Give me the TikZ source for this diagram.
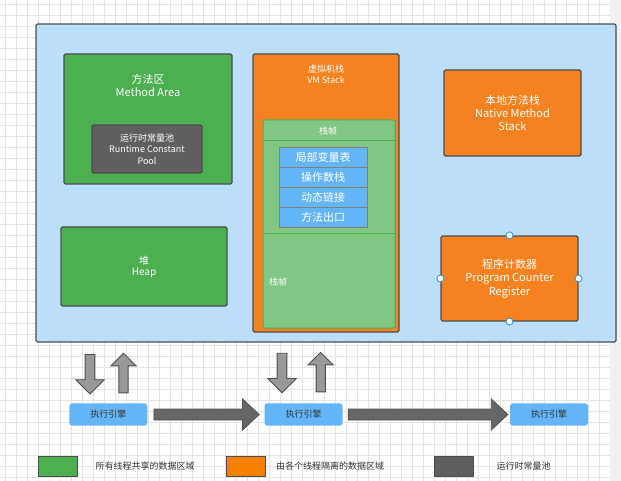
\documentclass[tikz,border=0pt]{standalone}
\usepackage{fontspec}
\setmainfont{Noto Sans CJK SC}
\usetikzlibrary{shapes.arrows}
\definecolor{gridgray}{HTML}{E4E4E4}
\definecolor{stripgray}{HTML}{F0F0F0}
\definecolor{edgegray}{HTML}{4D4D4D}
\definecolor{areablue}{HTML}{BBDEFB}
\definecolor{sharedgreen}{HTML}{4CAF50}
\definecolor{privateorange}{HTML}{F5821E}
\definecolor{legendorange}{HTML}{F88000}
\definecolor{poolgray}{HTML}{5F5F5F}
\definecolor{framegreen}{HTML}{81C784}
\definecolor{cellblue}{HTML}{64B5F6}
\definecolor{handleblue}{HTML}{2A8FF7}
\begin{document}
\begin{tikzpicture}[x=1pt,y=-1pt,
  area/.style={draw=edgegray,line width=1.2pt,rounded corners=1.5pt,inner sep=0pt,text=white,align=center},
  shared/.style={area,fill=sharedgreen},
  private/.style={area,fill=privateorange},
  pool/.style={area,fill=poolgray},
  title/.style={text=white,align=center,inner sep=0pt,font=\fontsize{11}{12.5}\selectfont},
  small/.style={text=white,align=center,inner sep=0pt,font=\fontsize{9}{11.3}\selectfont},
  cell/.style={draw=gray,line width=0.8pt,fill=cellblue,minimum width=88pt,minimum height=20pt,inner sep=0pt,text=white,font=\fontsize{11}{12}\selectfont},
  engine/.style={fill=cellblue,rounded corners=3pt,minimum width=78pt,minimum height=22.4pt,inner sep=0pt,text=black!80,font=\fontsize{9}{10}\selectfont},
  updown/.style={single arrow,draw=edgegray,fill=black!40,line width=0.9pt,inner sep=4.4pt,single arrow head extend=9.4pt,minimum height=39.5pt},
  flow/.style={single arrow,draw=black!68,fill=black!60,line width=0.8pt,inner sep=5.1pt,single arrow head extend=10pt,single arrow tip angle=86},
  handle/.style={circle,draw=handleblue,fill=white,line width=0.8pt,inner sep=0pt,minimum size=7pt},
  legbox/.style={draw=edgegray,line width=1pt,minimum width=39pt,minimum height=20pt,inner sep=0pt},
  legtext/.style={anchor=west,inner sep=0pt,text=black!80,font=\fontsize{9}{10}\selectfont}]
\useasboundingbox (0,0) rectangle (621,481);
% grid paper
\fill[white] (0,0) rectangle (610,481);
\fill[stripgray] (610,0) rectangle (621,481);
\foreach \i in {0,...,54}
  \draw[gridgray,line width=0.6pt] (5.3+11*\i,0) -- (5.3+11*\i,481);
\foreach \j in {0,...,43}
  \draw[gridgray,line width=0.6pt] (0,4+11*\j) -- (610,4+11*\j);

% runtime data area
\node[area,fill=areablue,minimum width=580pt,minimum height=318pt] (jvm) at (326,183) {};

% method area
\node[shared,minimum width=168pt,minimum height=130pt] (method) at (148,119) {};
\node[title] (methodtxt) at (148,85.5) {方法区\\Method Area};
\node[pool,minimum width=110pt,minimum height=48pt,font=\fontsize{9}{11.3}\selectfont] (constpool) at (147,149) {运行时常量池\\Runtime Constant\\Pool};

% heap
\node[shared,minimum width=166pt,minimum height=79pt,font=\fontsize{10}{11}\selectfont] (heap) at (144,266.5) {堆\\Heap};

% vm stack
\node[private,minimum width=146pt,minimum height=278pt] (vmstack) at (326,193) {};
\node[small] (vmstacktxt) at (326,74) {虚拟机栈\\VM Stack};
\node[draw=sharedgreen,line width=1pt,fill=framegreen,rounded corners=2pt,minimum width=132pt,minimum height=208pt,inner sep=0pt] (frame) at (329,224) {};
\draw[sharedgreen,line width=1pt] (frame.west |- 0,141) -- (frame.east |- 0,141);
\draw[sharedgreen,line width=1pt] (frame.west |- 0,234) -- (frame.east |- 0,234);
\node[small] (frametxt) at (328,131.5) {栈帧};
\node[small] (frametxt2) at (278,282) {栈帧};
\node[cell] (locals) at (323,157) {局部变量表};
\node[cell] (operands) at (323,177) {操作数栈};
\node[cell] (linking) at (323,197) {动态链接};
\node[cell] (exit) at (323,217) {方法出口};

% native method stack
\node[private,minimum width=137pt,minimum height=86pt,font=\fontsize{11}{13}\selectfont] (native) at (512.5,113) {本地方法栈\\Native Method\\Stack};

% program counter
\node[private,minimum width=137pt,minimum height=85pt,font=\fontsize{11}{13.5}\selectfont] (pc) at (509.5,278.5) {程序计数器\\Program Counter\\Register};
\foreach \a in {north,south,east,west}
  \node[handle] (pc-\a) at (pc.\a) {};

% execution engines
\node[engine] (engine1) at (108.3,414.5) {执行引擎};
\node[engine] (engine2) at (303.5,414.5) {执行引擎};
\node[engine] (engine3) at (549,414.5) {执行引擎};
\node[flow,minimum height=105.3pt,anchor=tail] (go1) at ([xshift=6pt]engine1.east) {};
\node[flow,minimum height=159.7pt,anchor=tail] (go2) at ([xshift=5.1pt]engine2.east) {};

% exchange with the data area
\node[updown,rotate=-90,anchor=tail] (down1) at (90,354) {};
\node[updown,rotate=90,anchor=tail,inner sep=4.2pt,single arrow head extend=7.8pt] (up1) at (123.5,393.3) {};
\node[updown,rotate=-90,anchor=tail] (down2) at (282,352.8) {};
\node[updown,rotate=90,anchor=tail,inner sep=4.2pt,single arrow head extend=7.8pt] (up2) at (320.7,392.3) {};

% legend
\node[legbox,fill=sharedgreen] (leg1) at (57.5,466) {};
\node[legtext] (leg1txt) at ([xshift=18pt]leg1.east) {所有线程共享的数据区域};
\node[legbox,fill=legendorange] (leg2) at (246,466) {};
\node[legtext] (leg2txt) at ([xshift=10pt]leg2.east) {由各个线程隔离的数据区域};
\node[legbox,fill=poolgray] (leg3) at (453.5,466) {};
\node[legtext] (leg3txt) at ([xshift=23pt]leg3.east) {运行时常量池};
\end{tikzpicture}
\end{document}
